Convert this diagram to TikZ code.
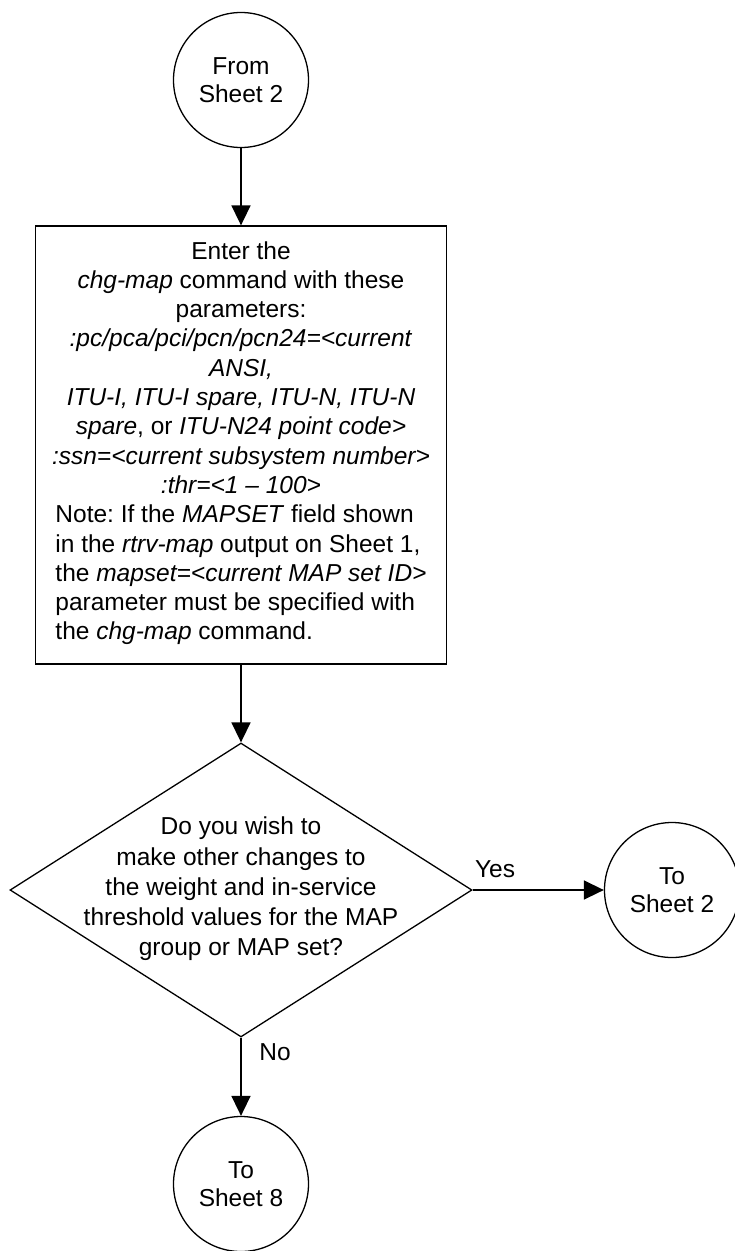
\documentclass[tikz,border=0pt]{standalone}
\usepackage{fontspec}
\setmainfont{Liberation Sans}
\usetikzlibrary{shapes.geometric,arrows.meta}
\frenchspacing
\tikzset{
  conn/.style={line width=1.6pt, -{Triangle[length=20pt,width=19pt]}},
  term/.style={circle, draw, line width=1.3pt, minimum size=135pt, inner sep=0pt, align=center, font=\fontsize{24.5}{27.5}\selectfont},
  procbox/.style={rectangle, draw, line width=1.3pt, minimum width=411pt, minimum height=438pt, inner sep=0pt, align=center, font=\fontsize{24.5}{29.3}\selectfont},
  decision/.style={diamond, draw, line width=1.3pt, minimum width=462pt, minimum height=294pt, inner sep=0pt},
  dectext/.style={align=center, font=\fontsize{24.5}{30.2}\selectfont, inner sep=0pt},
  lbl/.style={font=\fontsize{24.5}{29}\selectfont, inner sep=0pt}
}
\begin{document}
\begin{tikzpicture}[x=1pt,y=-1pt]
\useasboundingbox (0,0) rectangle (735,1251);
\node[term] (from) at (241,80) {From\\Sheet 2};
\node[procbox] (box) at (241,445) {Enter the\\
\textit{chg-map} command with these\\
parameters:\\
\textit{:pc/pca/pci/pcn/pcn24=<current}\\
\textit{ANSI,}\\
\textit{ITU-I, ITU-I spare, ITU-N, ITU-N}\\
\textit{spare}, or \textit{ITU-N24 point code>}\\
\textit{:ssn=<current subsystem number>}\\
\textit{:thr=<1 -- 100>}\\
\begin{tabular}[t]{@{}l@{}}Note: If the \textit{MAPSET} field shown\\
in the \textit{rtrv-map} output on Sheet 1,\\
the \textit{mapset=<current MAP set ID>}\\
parameter must be specified with\\
the \textit{chg-map} command.\end{tabular}};
\node[decision] (dec) at (241,890) {};
\node[dectext] (dect) at (241,889) {Do you wish to\\make other changes to\\the weight and in-service\\threshold values for the MAP\\group or MAP set?};
\node[term] (to2) at (672,890) {To\\Sheet 2};
\node[term] (to8) at (241,1184) {To\\Sheet 8};
\node[lbl] (yes) at (495,869) {Yes};
\node[lbl] (no) at (275,1052) {No};
\draw[conn] (from) -- (box);
\draw[conn] (box) -- (dec);
\draw[conn] (dec.east) -- (to2);
\draw[conn] (dec.south) -- (to8);
\end{tikzpicture}
\end{document}
